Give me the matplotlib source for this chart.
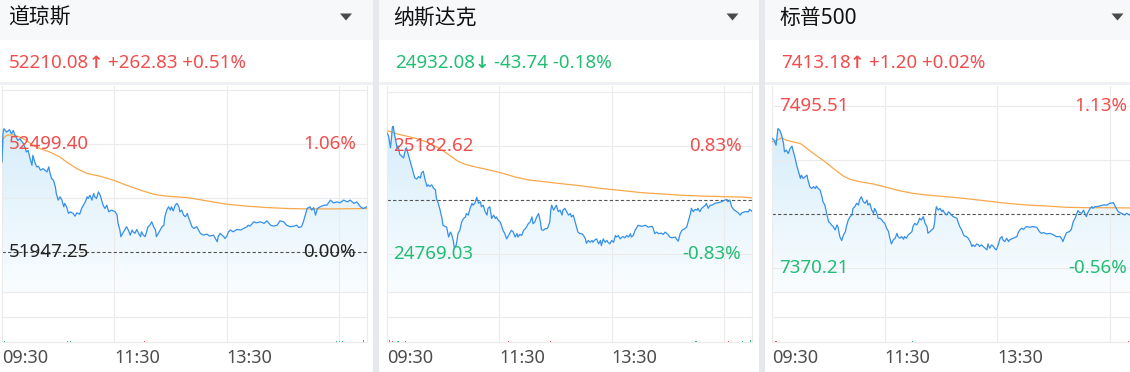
import numpy as np
import matplotlib.pyplot as plt
from matplotlib.patches import Rectangle, Polygon
from matplotlib.colors import LinearSegmentedColormap

plt.rcParams['font.family'] = ['Noto Sans', 'Noto Sans CJK SC', 'DejaVu Sans']

# ---- quote data ----
names = ['道琼斯', '纳斯达克', '标普500']
last_price = [52210.08, 24932.08, 7413.18]
prev_close = [51947.25, 24975.82, 7411.98]
label_high = [52499.40, 25182.62, 7495.51]
label_low = [51947.25, 24769.03, 7370.21]
grid_step = [276.075, 206.80, 41.765]
y_range = [(51739.6, 52794.5), (24622.4, 25412.4), (7351.7, 7511.2)]

tick_minutes = [0, 120, 240]
tick_labels = ['09:30', '11:30', '13:30']
grid_minutes = [120, 240, 360]

# minutes after 09:30
dow_t = [0, 1, 2, 5, 8, 10, 12, 14, 17, 19,
         23, 25, 26, 28, 30, 32, 33, 35, 37, 39,
         41, 44, 48, 50, 51, 53, 55, 57, 58, 60,
         62, 64, 66, 67, 69, 71, 73, 76, 78, 80,
         83, 85, 87, 89, 91, 92, 94, 96, 98, 99,
         101, 103, 105, 107, 108, 110, 112, 114, 117, 121,
         123, 124, 126, 127, 130, 132, 133, 135, 137, 139,
         140, 142, 144, 146, 148, 149, 151, 153, 155, 156,
         158, 160, 162, 164, 165, 167, 169, 171, 173, 174,
         176, 178, 180, 181, 183, 185, 187, 189, 190, 192,
         194, 196, 198, 199, 201, 203, 205, 208, 212, 215,
         219, 222, 226, 228, 230, 231, 233, 235, 237, 238,
         240, 242, 244, 247, 251, 255, 258, 262, 263, 265,
         269, 272, 276, 280, 283, 287, 290, 294, 297, 301,
         304, 308, 312, 315, 317, 320, 322, 324, 326, 329,
         331, 333, 335, 337, 340, 344, 347, 351, 354, 358,
         361, 365, 369, 372, 376, 379, 383, 386, 390]
dow_px = [52406,
          52550, 52576, 52559, 52571, 52550, 52567, 52542, 52516, 52525, 52499,
          52474, 52457, 52465, 52423, 52389, 52440, 52406, 52381, 52384, 52364,
          52372, 52355, 52381, 52355, 52321, 52313, 52279, 52245, 52211, 52228,
          52211, 52177, 52194, 52177, 52143, 52151, 52143, 52129, 52146, 52139,
          52168, 52185, 52202, 52228, 52219, 52236, 52211, 52245, 52228, 52219,
          52253, 52236, 52202, 52185, 52168, 52185, 52151, 52160, 52151, 52134,
          52092, 52058, 52024, 52049, 52066, 52075, 52058, 52032, 52058, 52049,
          52041, 52061, 52041, 52024, 52049, 52032, 52024, 52058, 52075, 52083,
          52100, 52075, 52058, 52024, 52041, 52058, 52075, 52083, 52126, 52160,
          52177, 52160, 52177, 52156, 52185, 52194, 52177, 52151, 52160, 52134,
          52126, 52143, 52126, 52100, 52075, 52066, 52075, 52041, 52032, 52037,
          52027, 52032, 52015, 51998, 52024, 52041, 52032, 52024, 52015, 52024,
          52049, 52058, 52049, 52061, 52058, 52066, 52075, 52083, 52078, 52100,
          52095, 52100, 52092, 52105, 52083, 52078, 52083, 52105, 52100, 52083,
          52075, 52078, 52083, 52071, 52075, 52100, 52134, 52168, 52177, 52160,
          52173, 52134, 52168, 52177, 52185, 52185, 52211, 52197, 52202, 52197,
          52211, 52202, 52211, 52194, 52202, 52177, 52168, 52177]
dow_avg_t = [0, 1, 5, 12, 19, 26, 33, 41, 51, 62, 69, 80, 91, 105,
             119, 133, 148, 162, 176, 198, 219, 240, 262, 283, 305, 326, 354, 390]
dow_avg = [52406, 52525, 52542, 52545, 52533, 52516, 52491, 52474, 52457, 52431,
           52406, 52372, 52347, 52333, 52313, 52287, 52262, 52241, 52231, 52224,
           52207, 52190, 52180, 52173, 52168, 52166, 52166, 52168]

nas_t = [0, 2, 4, 5, 6, 7, 8, 10, 11, 12,
         14, 16, 18, 20, 21, 23, 25, 27, 28, 30,
         32, 34, 36, 37, 39, 41, 43, 44, 46, 48,
         50, 52, 53, 55, 57, 59, 60, 62, 64, 66,
         68, 69, 71, 72, 74, 75, 76, 78, 80, 82,
         84, 85, 87, 89, 91, 92, 94, 96, 98, 100,
         101, 103, 105, 107, 108, 110, 112, 114, 116, 117,
         119, 121, 123, 124, 126, 128, 130, 132, 133, 135,
         137, 139, 140, 142, 144, 146, 148, 149, 151, 153,
         155, 156, 158, 160, 162, 164, 165, 167, 169, 171,
         172, 174, 175, 176, 178, 180, 181, 183, 185, 187,
         188, 190, 192, 194, 196, 197, 199, 201, 203, 204,
         206, 208, 210, 212, 213, 215, 217, 219, 220, 222,
         224, 226, 228, 229, 231, 233, 235, 236, 238, 240,
         242, 244, 245, 247, 249, 251, 252, 254, 256, 258,
         260, 261, 263, 265, 267, 268, 272, 276, 279, 283,
         284, 286, 288, 290, 293, 295, 297, 300, 302, 304,
         308, 309, 311, 313, 315, 316, 318, 320, 322, 324,
         325, 327, 329, 331, 332, 334, 336, 338, 340, 341,
         343, 345, 347, 350, 354, 357, 361, 363, 364, 366,
         368, 370, 371, 375, 377, 379, 382, 386, 387, 390]
nas_px = [25234, 25221, 25176, 25209, 25254, 25258, 25234, 25196, 25176, 25183,
          25150, 25144, 25137, 25170, 25176, 25150, 25124, 25099, 25086, 25060,
          25056, 25066, 25060, 25079, 25086, 25053, 25028, 25034, 25028, 25034,
          25021, 25015, 24982, 24963, 24937, 24905, 24879, 24875, 24872, 24834,
          24853, 24847, 24821, 24795, 24801, 24821, 24847, 24860, 24892, 24905,
          24911, 24924, 24918, 24944, 24963, 24956, 24963, 24986, 24963, 24969,
          24950, 24956, 24931, 24918, 24944, 24950, 24905, 24918, 24905, 24911,
          24898, 24892, 24872, 24860, 24847, 24827, 24840, 24853, 24860, 24853,
          24834, 24847, 24834, 24844, 24840, 24860, 24866, 24872, 24885, 24892,
          24911, 24885, 24892, 24911, 24924, 24892, 24862, 24860, 24866, 24866,
          24872, 24892, 24937, 24956, 24937, 24950, 24956, 24931, 24937, 24918,
          24937, 24944, 24931, 24918, 24924, 24911, 24918, 24892, 24866, 24853,
          24847, 24847, 24840, 24827, 24810, 24821, 24814, 24821, 24814, 24823,
          24827, 24808, 24821, 24801, 24827, 24814, 24821, 24814, 24808, 24821,
          24814, 24840, 24834, 24840, 24827, 24834, 24836, 24831, 24840, 24834,
          24847, 24834, 24840, 24860, 24872, 24879, 24875, 24879, 24872, 24875,
          24870, 24847, 24853, 24847, 24849, 24844, 24853, 24844, 24834, 24831,
          24834, 24827, 24818, 24847, 24860, 24862, 24866, 24872, 24898, 24924,
          24944, 24931, 24940, 24937, 24944, 24931, 24944, 24950, 24956, 24963,
          24944, 24956, 24956, 24963, 24966, 24969, 24976, 24978, 24969, 24976,
          24950, 24940, 24937, 24927, 24918, 24927, 24931, 24931, 24940, 24932]
nas_avg_t = [0, 5, 12, 23, 34, 44, 55, 66, 76, 84, 94, 108, 123, 137,
             151, 165, 187, 208, 229, 251, 272, 293, 315, 336, 357, 379, 390]
nas_avg = [25241, 25237, 25228, 25219, 25209, 25196, 25176, 25150, 25124, 25112,
           25103, 25092, 25079, 25064, 25053, 25047, 25038, 25030, 25020, 25012,
           25004, 24999, 24994, 24991, 24989, 24987, 24984]

spx_t = [0, 2, 4, 5, 6, 8, 10, 12, 13, 15,
         17, 19, 21, 22, 24, 26, 28, 30, 31, 33,
         35, 37, 38, 40, 42, 44, 46, 47, 49, 51,
         53, 54, 56, 58, 60, 62, 63, 65, 67, 69,
         70, 72, 74, 76, 78, 79, 81, 83, 85, 86,
         88, 90, 92, 93, 95, 97, 99, 101, 102, 104,
         106, 108, 109, 111, 113, 115, 117, 118, 120, 122,
         124, 125, 127, 129, 131, 133, 134, 136, 138, 140,
         141, 143, 145, 147, 149, 150, 152, 154, 156, 157,
         159, 161, 163, 165, 166, 168, 170, 172, 173, 174,
         175, 177, 179, 181, 182, 184, 186, 188, 189, 191,
         193, 197, 198, 200, 202, 204, 205, 207, 209, 211,
         213, 214, 216, 218, 220, 221, 223, 225, 227, 229,
         230, 232, 234, 236, 237, 239, 241, 243, 245, 246,
         248, 250, 252, 253, 257, 261, 262, 264, 266, 268,
         271, 275, 278, 282, 285, 287, 289, 293, 296, 300,
         303, 307, 309, 310, 312, 314, 317, 319, 321, 323,
         325, 326, 328, 330, 332, 333, 335, 337, 339, 341,
         342, 344, 346, 349, 353, 357, 360, 364, 365, 367,
         369, 371, 374, 376, 378, 381, 390]
spx_px = [7470.6, 7469.3, 7465.4, 7471.9, 7478.3, 7477.0, 7473.1, 7466.7, 7460.3, 7461.6,
          7459.0, 7462.9, 7464.7, 7461.6, 7456.5, 7450.0, 7444.9, 7439.7, 7442.3, 7439.7,
          7441.0, 7442.3, 7438.5, 7433.3, 7432.0, 7433.3, 7432.0, 7433.8, 7432.0, 7430.7,
          7425.6, 7421.8, 7419.2, 7412.8, 7406.3, 7405.0, 7403.8, 7402.5, 7399.9, 7403.8,
          7402.5, 7394.8, 7391.7, 7396.1, 7398.6, 7402.5, 7407.6, 7410.2, 7411.5, 7416.6,
          7417.9, 7420.5, 7419.2, 7423.0, 7425.6, 7421.8, 7420.5, 7423.0, 7419.2, 7420.5,
          7415.3, 7412.8, 7416.6, 7414.0, 7408.9, 7408.9, 7407.6, 7406.3, 7405.0, 7401.2,
          7398.6, 7394.8, 7389.1, 7392.2, 7393.5, 7397.3, 7394.8, 7393.5, 7394.8, 7392.7,
          7394.8, 7393.5, 7396.1, 7397.3, 7398.6, 7402.5, 7405.0, 7403.8, 7406.3, 7408.9,
          7407.6, 7410.2, 7405.0, 7402.5, 7397.3, 7398.6, 7399.9, 7401.2, 7405.0, 7412.8,
          7417.9, 7415.3, 7416.6, 7414.0, 7415.3, 7412.8, 7411.5, 7414.0, 7413.3, 7411.5,
          7410.2, 7408.9, 7406.3, 7402.5, 7399.9, 7396.1, 7395.3, 7394.8, 7393.5, 7390.9,
          7387.1, 7388.4, 7387.1, 7389.1, 7388.4, 7387.1, 7388.4, 7387.1, 7385.8, 7384.5,
          7389.1, 7385.8, 7388.4, 7387.1, 7385.8, 7384.5, 7388.4, 7393.5, 7394.8, 7392.2,
          7390.9, 7393.5, 7390.9, 7392.2, 7393.5, 7394.8, 7397.3, 7399.9, 7401.2, 7400.4,
          7402.5, 7402.0, 7402.5, 7402.0, 7398.6, 7397.3, 7397.9, 7396.8, 7397.3, 7396.1,
          7394.8, 7394.8, 7392.7, 7390.9, 7394.8, 7397.9, 7398.6, 7400.4, 7406.3, 7408.9,
          7412.8, 7414.8, 7413.3, 7412.8, 7415.3, 7413.3, 7410.2, 7414.0, 7416.6, 7417.9,
          7416.6, 7417.9, 7417.9, 7418.4, 7419.2, 7419.2, 7420.5, 7421.0, 7419.2, 7416.6,
          7414.0, 7413.3, 7412.2, 7411.5, 7412.8, 7411.5, 7413.2]
spx_avg_t = [0, 5, 10, 15, 22, 30, 37, 44, 54, 65, 76, 83, 93, 108,
             122, 136, 150, 165, 186, 207, 229, 250, 271, 293, 314, 335, 357, 381, 390]
spx_avg = [7468.0, 7469.3, 7471.1, 7469.3, 7468.0, 7466.7, 7462.9, 7459.0, 7453.9, 7447.5,
           7441.5, 7439.0, 7437.2, 7435.4, 7432.8, 7430.2, 7428.2, 7426.9, 7425.6, 7424.1,
           7422.3, 7420.5, 7419.2, 7418.4, 7417.4, 7417.1, 7417.1, 7416.9, 7416.9]

# volume (relative units, nearly invisible except the opening bar)
dow_vol_t = [0, 3, 70, 73, 152, 357, 361, 364, 386]
dow_vol = [14, 2, 2, 1.5, 2, 2, 2, 2, 3]
dow_vol_up = [1, 0, 1, 0, 1, 0, 0, 0, 0]
nas_vol_t = [0, 3, 6, 12, 20, 130, 175, 330, 365, 380, 388]
nas_vol = [71, 3, 2, 2, 2, 2, 2, 2, 2, 2, 3]
nas_vol_up = [1, 0, 1, 0, 0, 1, 1, 0, 1, 0, 0]
spx_vol_t = [0, 4, 150, 380, 388]
spx_vol = [4, 2, 1.5, 2, 3]
spx_vol_up = [1, 1, 0, 1, 0]

# ---- colours / layout ----
RED = '#f04e4e'
GREEN = '#22bd72'
BLACK = '#222222'
BLUE = '#3590ea'
ORANGE = '#f8a84b'
GRID = '#ebebeb'
W, H = 1130, 372

plot_left = [2, 386.7, 772.3]
plot_right = [367, 752.3, 1137.9]
header_span = [(0, 373), (379, 759), (765, 1130)]
title_x = [8.3, 393.3, 780]
quote_x = [9.3, 395, 780.7]
caret_x = [346, 732.5, 1117.5]

fig = plt.figure(figsize=(W / 100, H / 100), dpi=100)
fig.patch.set_facecolor('white')

bg = fig.add_axes([0, 0, 1, 1])
bg.set_xlim(0, W)
bg.set_ylim(H, 0)
bg.axis('off')

for x0, x1 in header_span:
    bg.add_patch(Rectangle((x0, 0), x1 - x0, 40, color='#f7f8fa', lw=0))
    bg.add_patch(Rectangle((x0, 82), x1 - x0, 2.5, color='#eff0f3', lw=0))
for x0 in [373, 759]:
    bg.add_patch(Rectangle((x0, 0), 6, H, color='#e7e8ed', lw=0))


def frac(x0, x1, y0, y1):
    return [x0 / W, 1 - y1 / H, (x1 - x0) / W, (y1 - y0) / H]


def color_for(v, ref):
    if v > ref:
        return RED
    if v < ref:
        return GREEN
    return BLACK


fade = LinearSegmentedColormap.from_list('fade', ['#fafdff', '#cde9f9'])
series = [(dow_t, dow_px, dow_avg_t, dow_avg, dow_vol_t, dow_vol, dow_vol_up),
          (nas_t, nas_px, nas_avg_t, nas_avg, nas_vol_t, nas_vol, nas_vol_up),
          (spx_t, spx_px, spx_avg_t, spx_avg, spx_vol_t, spx_vol, spx_vol_up)]

for i in range(3):
    t, px, at, av, vt, vv, vup = series[i]
    prev = prev_close[i]

    # header
    bg.text(title_x[i], 18, names[i], fontsize=15, color='#111111',
            ha='left', va='center')
    cx = caret_x[i]
    bg.add_patch(Polygon([(cx - 6, 13.5), (cx + 6, 13.5), (cx, 20.5)],
                         closed=True, color='#4a4a4a', lw=0))
    chg = last_price[i] - prev
    pct = chg / prev * 100
    qc = color_for(last_price[i], prev)
    t1 = bg.text(quote_x[i], 62.5, f'{last_price[i]:.2f}', fontsize=13.5,
                 color=qc, ha='left', va='center')
    t2 = bg.annotate('↑' if chg >= 0 else '↓', xy=(1, 0.5), xycoords=t1,
                     xytext=(-0.3, 0), textcoords='offset points',
                     fontsize=12.5, fontweight='bold', family='DejaVu Sans',
                     color=qc, ha='left', va='center')
    bg.annotate(f'{chg:+.2f} {pct:+.2f}%', xy=(1, 0.5), xycoords=t2,
                xytext=(3.2, 0), textcoords='offset points',
                fontsize=13.5, color=qc, ha='left', va='center')

    # price chart
    ax = fig.add_axes(frac(plot_left[i], plot_right[i], 86, 292.3))
    axv = fig.add_axes(frac(plot_left[i], plot_right[i], 292.3, 341.7))
    y0, y1 = y_range[i]

    grad = np.linspace(0, 1, 256).reshape(-1, 1)
    im = ax.imshow(grad, extent=(0, 390, y0, y1), origin='lower',
                   aspect='auto', cmap=fade, zorder=1)
    verts = np.column_stack([np.r_[t[0], t, t[-1]], np.r_[y0, px, y0]])
    clip = Polygon(verts, closed=True, facecolor='none', edgecolor='none')
    ax.add_patch(clip)
    im.set_clip_path(clip)

    for k in range(-4, 5):
        lev = prev + k * grid_step[i]
        if k != 0 and y0 < lev < y1:
            ax.axhline(lev, color=GRID, lw=0.8, zorder=1.5)
    for m in grid_minutes:
        ax.axvline(m, color=GRID, lw=0.8, zorder=1.5)
        axv.axvline(m, color=GRID, lw=0.8, zorder=1)
    ax.axhline(prev, color='#555555', lw=0.8, ls=(0, (3, 2)), zorder=2)

    ax.plot(at, av, color=ORANGE, lw=0.9, zorder=2.8)
    ax.plot(t, px, color=BLUE, lw=0.9, zorder=3)

    ax.set_xlim(0, 390)
    ax.set_ylim(y0, y1)
    ax.set_xticks([])
    ax.set_yticks([])
    ax.set_facecolor('none')
    ax.spines['top'].set_visible(False)
    for s in ['left', 'right', 'bottom']:
        ax.spines[s].set_color(GRID)
        ax.spines[s].set_linewidth(0.8)

    for val in [label_high[i], label_low[i]]:
        c = color_for(val, prev)
        ax.annotate(f'{val:.2f}', xy=(0, val), xycoords=('axes fraction', 'data'),
                    xytext=(4.7, 0), textcoords='offset points', fontsize=13.5,
                    color=c, ha='left', va='center', zorder=4)
        ax.annotate(f'{(val / prev - 1) * 100:.2f}%', xy=(1, val),
                    xycoords=('axes fraction', 'data'), xytext=(-7.9, 0),
                    textcoords='offset points', fontsize=13.5, color=c,
                    ha='right', va='center', zorder=4)

    # volume strip
    axv.bar(vt, vv, width=1.2, color=[RED if u else GREEN for u in vup],
            lw=0, zorder=2)
    axv.axhline(50, color=GRID, lw=0.8, zorder=1)
    axv.set_xlim(0, 390)
    axv.set_ylim(0, 100)
    axv.set_yticks([])
    axv.set_facecolor('none')
    axv.spines['top'].set_visible(False)
    for s in ['left', 'right', 'bottom']:
        axv.spines[s].set_color(GRID)
        axv.spines[s].set_linewidth(0.8)
    axv.set_xticks(tick_minutes, tick_labels)
    axv.tick_params(axis='x', length=0, pad=5.5, labelsize=13, labelcolor='#4d4d4d')
    for lab in axv.get_xticklabels():
        lab.set_horizontalalignment('left')

fig.savefig('out.png', dpi=100)
